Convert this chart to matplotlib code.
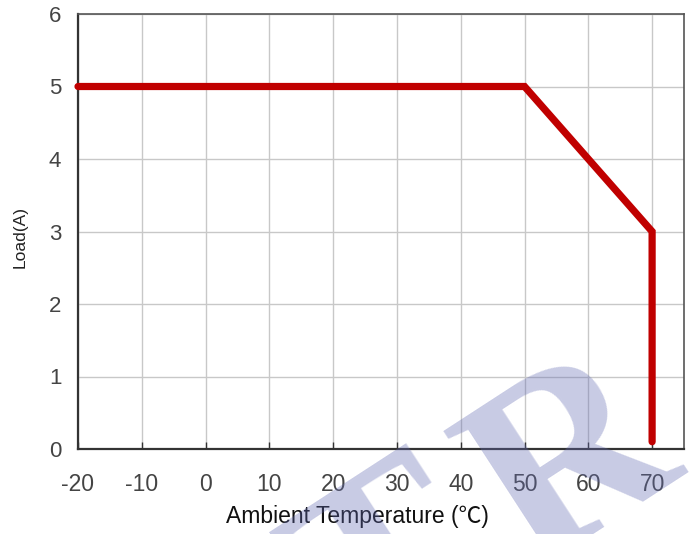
import matplotlib
matplotlib.use("Agg")
import matplotlib.pyplot as plt

plt.rcParams["axes.unicode_minus"] = False

temps = [-20, 50, 70, 70]
loads = [5, 5, 3, 0.1]
xticks = [-20, -10, 0, 10, 20, 30, 40, 50, 60, 70]
yticks = [0, 1, 2, 3, 4, 5, 6]

tick_font = "Liberation Sans"

fig = plt.figure(figsize=(6.97, 5.34), dpi=100)
ax = fig.add_axes([78/697, 1-449/534, (684-78)/697, (449-14)/534])

ax.plot(temps, loads, color="#c00000", lw=5.2, solid_capstyle="round",
        solid_joinstyle="miter", zorder=3, clip_on=False)

ax.set_xlim(-20, 75)
ax.set_ylim(0, 6)
ax.set_xticks(xticks)
ax.set_yticks(yticks)
ax.grid(True, color="#c8c8c8", lw=1.0)
ax.set_axisbelow(True)
for s in ["left", "bottom"]:
    ax.spines[s].set_color("#333333")
    ax.spines[s].set_linewidth(1.6)
for s in ["top", "right"]:
    ax.spines[s].set_color("#555555")
    ax.spines[s].set_linewidth(1.2)
ax.tick_params(axis="x", direction="in", length=5, width=1, color="#333333",
               pad=17, labelsize=16.5, labelcolor="#444444")
ax.tick_params(axis="y", direction="in", length=0, pad=12,
               labelsize=16, labelcolor="#444444")
for lbl in ax.get_xticklabels() + ax.get_yticklabels():
    lbl.set_fontfamily(tick_font)

fig.text(357/697, 1-517/534, "Ambient Temperature (℃)", ha="center", va="center",
         fontsize=16.5, family=["Liberation Sans", "Noto Sans CJK JP"], color="#111111")
fig.text(20/697, 1-237/534, "Load(A)", ha="center", va="center", rotation=90,
         fontsize=12.5, family=["Liberation Sans", "DejaVu Sans"], color="#222222")

# watermark
wm = (98/255, 106/255, 178/255)
fig.text(575/697, 1-470/534, "R", ha="center", va="center", rotation=33,
         rotation_mode="anchor", fontsize=185, fontweight="bold",
         family="Liberation Serif", color=wm, alpha=0.35, zorder=10)
fig.text(395/697, 1-575/534, "T", ha="center", va="center", rotation=33,
         rotation_mode="anchor", fontsize=185, fontweight="bold",
         family="Liberation Serif", color=wm, alpha=0.35, zorder=10)

fig.savefig("out.png", dpi=100)
